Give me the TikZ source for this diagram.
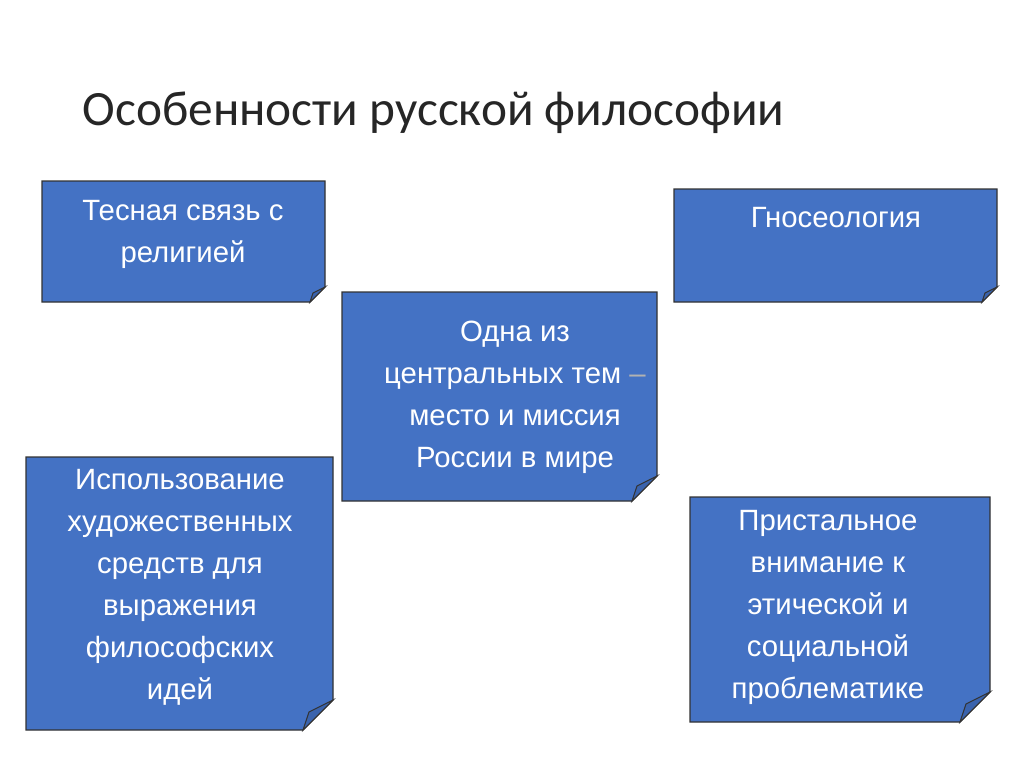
\documentclass[tikz,border=0pt]{standalone}
\usepackage{fontspec}
\setmainfont{Liberation Sans}
\newfontfamily\titlefont{Carlito}
\begin{document}
\begin{tikzpicture}[x=0.75pt,y=-0.75pt]
\definecolor{boxblue}{HTML}{4472C4}
\definecolor{foldblue}{HTML}{3A63AD}
\tikzset{
  txt/.style={text=white,font=\fontsize{22}{31.5}\selectfont,align=center,anchor=north},
}
\newcommand\notebox[5]{% x1 y1 x2 y2 fold
  \fill[boxblue,draw=black!80,line width=0.8pt] (#1,#2) -- (#3,#2) -- (#3,#4-#5) -- (#3-#5,#4) -- (#1,#4) -- cycle;
  \fill[foldblue,draw=black!80,line width=0.8pt] (#3,#4-#5) -- (#3-#5*0.8,#4-#5*0.6) -- (#3-#5,#4) -- cycle;
}
\useasboundingbox (0,0) rectangle (1024,767);
\fill[white] (0,0) rectangle (1024,767);
\node[anchor=west,font=\titlefont\fontsize{37}{40}\selectfont,text=black!85] (title) at (78,113) {Особенности русской философии};
\notebox{42}{181}{325}{302}{15}
\notebox{674}{189}{997}{302}{15}
\notebox{342}{292}{657}{501}{25}
\notebox{26}{457}{333}{730}{30}
\notebox{690}{497}{990}{722}{30}
\node[txt] (t1) at (183,196) {Тесная связь с\\религией};
\node[txt] (t2) at (836,203) {Гносеология};
\node[txt] (t3) at (515,316) {Одна из\\центральных тем \textcolor{black!30}{–}\\место и миссия\\России в мире};
\node[txt] (t4) at (180,465) {Использование\\художественных\\средств для\\выражения\\философских\\идей};
\node[txt] (t5) at (828,506) {Пристальное\\внимание к\\этической и\\социальной\\проблематике};
\end{tikzpicture}
\end{document}
